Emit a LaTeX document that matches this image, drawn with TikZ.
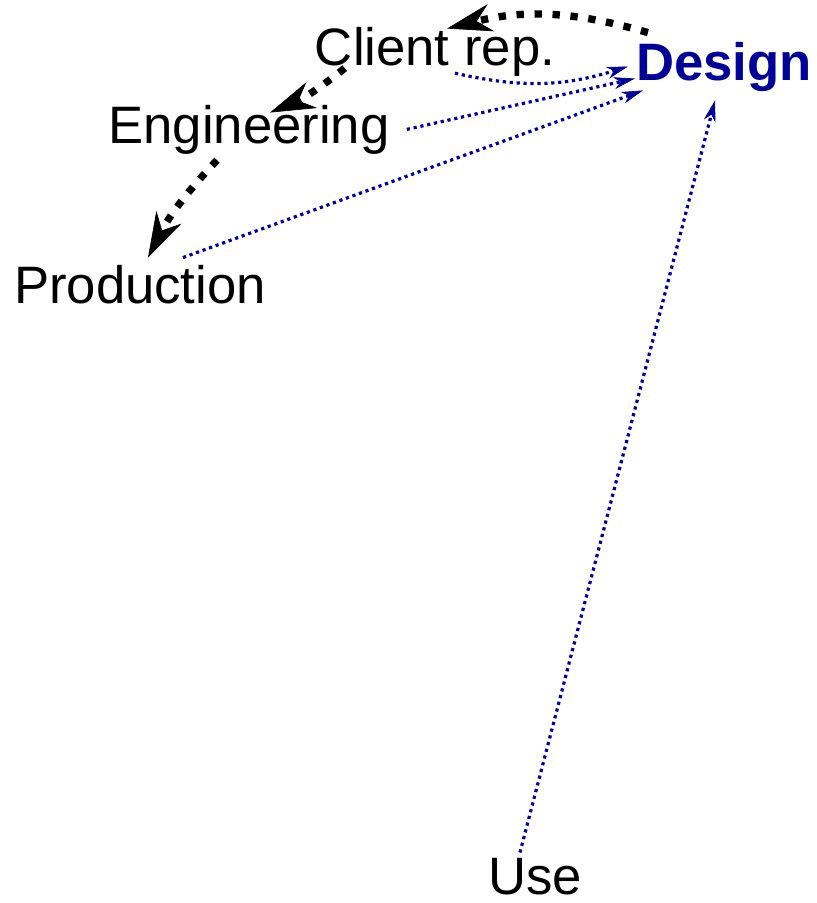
\documentclass[tikz,border=0pt]{standalone}
\usepackage{fontspec}
\setmainfont{Liberation Sans}
\usetikzlibrary{arrows.meta}
\definecolor{dblue}{RGB}{0,0,153}

\begin{document}
\begin{tikzpicture}[x=0.75pt,y=-0.75pt,
    lbl/.style={anchor=base,inner sep=0pt,font=\fontsize{39.5}{40}\selectfont},
    blk/.style={line width=5.5pt,dash pattern=on 5.5pt off 8pt,
      -{Stealth[length=34pt,width=21pt,inset=11pt,line width=0.5pt]}},
    blu/.style={dblue,line width=2.4pt,dash pattern=on 2.4pt off 2.8pt,
      -{Stealth[length=16pt,width=9pt,inset=5pt,line width=0.5pt]}}]
    \useasboundingbox (0,0) rectangle (817,903);
    \node[lbl] (client) at (435,65) {Client rep.};
    \node[lbl,dblue] (design) at (724,80) {\bfseries Design};
    \node[lbl] (eng) at (249,143) {Engineering};
    \node[lbl] (prod) at (140,303) {Production};
    \node[lbl] (use) at (535,894) {Use};
    %
    \draw[blk] ([shift={(12,-9)}]design.north west) to[bend right=15] ([shift={(12,2)}]client.north);
    \draw[blk] ([shift={(30,-8)}]client.south west) to[bend left=8] ([shift={(21,8)}]eng.north);
    \draw[blk] ([shift={(-32,6)}]eng.south) to[bend right=8] ([shift={(8,-7)}]prod.north);
    %
    \draw[blu] ([shift={(20,-3)}]client.south) to[bend right=15] ([shift={(-8,0)}]design.west);
    \draw[blu] ([shift={(17,0)}]eng.east) -- ([shift={(-1,12)}]design.west);
    \draw[blu] ([shift={(43,-7)}]prod.north) -- ([shift={(7,-1)}]design.south west);
    \draw[blu] ([shift={(-15,-5)}]use.north) -- ([shift={(-9,9)}]design.south);
\end{tikzpicture}
\end{document}
